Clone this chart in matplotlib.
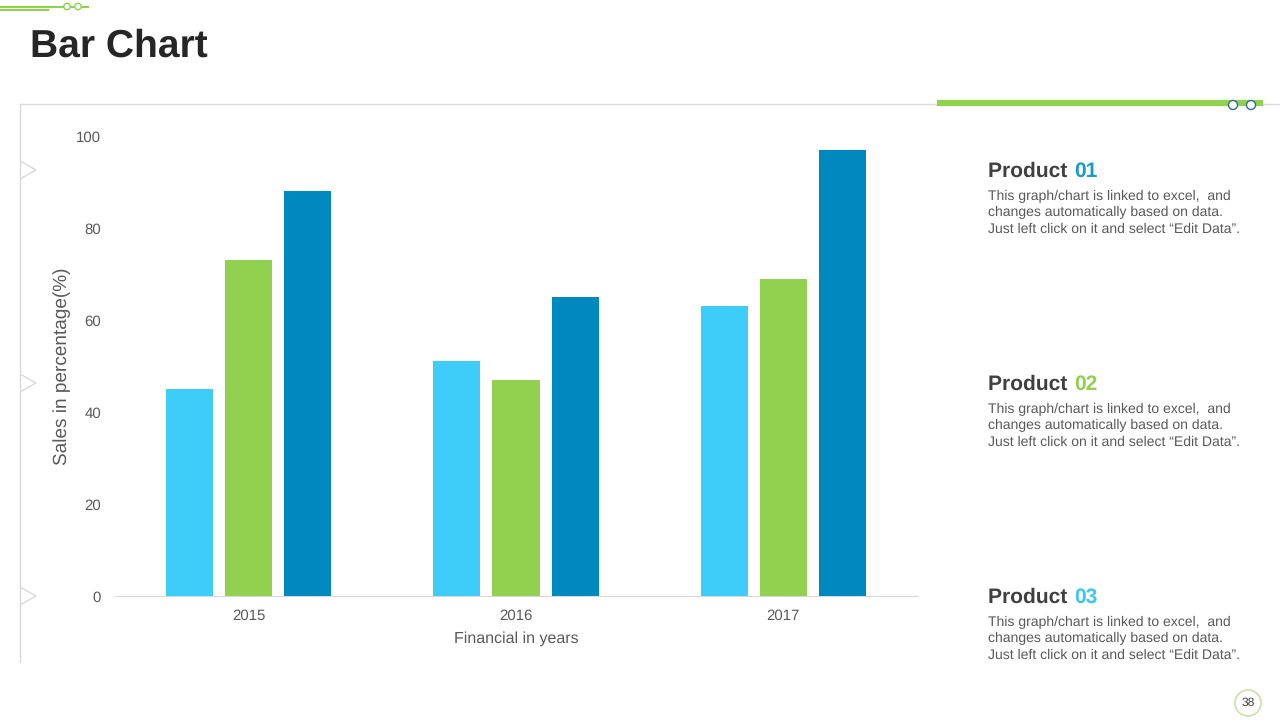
import matplotlib.pyplot as plt
from matplotlib.patches import Circle, Polygon
from matplotlib.lines import Line2D

plt.rcParams['font.family'] = ['Liberation Sans', 'DejaVu Sans']
plt.rcParams['text.hinting'] = 'no_hinting'
plt.rcParams['text.hinting_factor'] = 1

# chart data
years = ['2015', '2016', '2017']
product_01 = [45, 51, 63]
product_02 = [73, 47, 69]
product_03 = [88, 65, 97]
series_colors = ['#3ECCF9', '#92D050', '#0089BF']

products = ['01', '02', '03']
product_colors = ['#1A9BC9', '#92D050', '#3EC6F0']
blurb = ('This graph/chart is linked to excel,  and\n'
         'changes automatically based on data.\n'
         'Just left click on it and select \u201cEdit Data\u201d.')

W, H = 1280, 720
fig = plt.figure(figsize=[12.8, 7.2], dpi=100)


def fx(px):
    return px / W


def fy(py):
    return 1 - py / H


# title
fig.text(fx(30), fy(47), 'Bar Chart', fontsize=28, fontweight='bold',
         color='#262626', va='center', ha='left')

# decorative lines
deco = [
    ([fx(20), fx(1280)], [fy(104), fy(104)], '#D9D9D9', 1),
    ([fx(20), fx(20)], [fy(104), fy(662)], '#D9D9D9', 1),
    ([fx(940), fx(1260)], [fy(103), fy(103)], '#92D050', 4.5),
    ([0, fx(88)], [fy(6.5), fy(6.5)], '#92D050', 1.5),
    ([0, fx(48)], [fy(10), fy(10)], '#92D050', 1.5),
]
for xs, ys, c, lw in deco:
    fig.add_artist(Line2D(xs, ys, color=c, lw=lw, transform=fig.transFigure))

for cx, cy, r, ec in [(1233, 105, 4.5, '#2E6F8E'), (1251, 105, 4.5, '#2E6F8E'),
                      (67, 6.5, 3.2, '#92D050'), (78, 6.5, 3.2, '#92D050')]:
    fig.add_artist(Circle((cx, H - cy), r, transform=None, facecolor='white',
                          edgecolor=ec, lw=1, zorder=5))

for ty in [170, 383, 596]:
    fig.add_artist(Polygon([(20, H - ty + 9), (36, H - ty), (20, H - ty - 9)],
                           closed=False, transform=None, fill=False,
                           edgecolor='#D9D9D9', lw=1))

# page number
fig.add_artist(Circle((1248, H - 703), 13, transform=None, facecolor='white',
                      edgecolor='#C9E3A8', lw=1.2))
fig.text(fx(1248), fy(703), '38', fontsize=8.5, color='#404040',
         ha='center', va='center')

# bar chart
ax = fig.add_axes([fx(115), fy(596), fx(917) - fx(115), fy(136) - fy(596)])
x = list(range(len(years)))
off = 59 / 267
width = 47 / 267
for i, (vals, c) in enumerate(zip([product_01, product_02, product_03], series_colors)):
    ax.bar([v + (i - 1) * off for v in x], vals, width=width, color=c, zorder=3)

ax.set_xlim(-0.5, 2.5)
ax.set_ylim(0, 100)
ax.set_xticks(x)
ax.set_xticklabels(years)
ax.set_yticks(range(0, 101, 20))
for s in ['top', 'right', 'left']:
    ax.spines[s].set_visible(False)
ax.spines['bottom'].set_color('#D9D9D9')
ax.tick_params(axis='both', length=0, labelsize=10.5, colors='#595959')
ax.tick_params(axis='y', pad=10)
ax.tick_params(axis='x', pad=9)
ax.set_xlabel('Financial in years', fontsize=11.5, color='#595959', labelpad=6)
ax.set_ylabel('Sales in percentage(%)', fontsize=13.5, color='#595959', labelpad=4)

# product descriptions
for k, (p, pc) in enumerate(zip(products, product_colors)):
    y0 = 171 + k * 213
    fig.text(fx(988), fy(y0), 'Product ', fontsize=15, fontweight='bold',
             color='#404040', va='center', ha='left')
    fig.text(fx(1074), fy(y0), p, fontsize=15, fontweight='bold',
             color=pc, va='center', ha='left')
    fig.text(fx(988), fy(y0 + 19), blurb, fontsize=10.2, color='#595959',
             va='top', ha='left', linespacing=1.33)

fig.savefig('out.png', dpi=100, facecolor='white')
